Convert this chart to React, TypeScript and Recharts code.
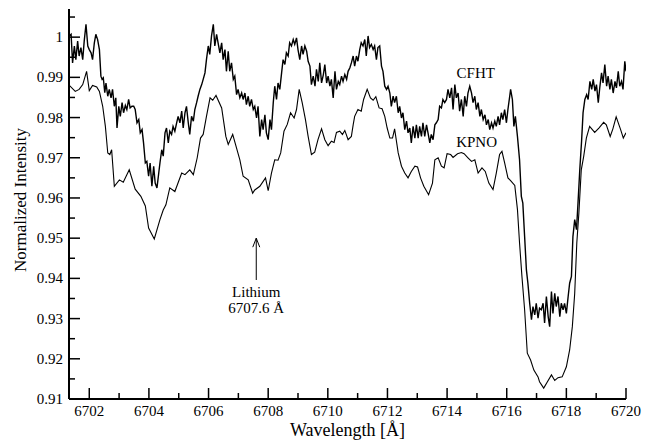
import React from "react";
import {
  LineChart,
  Line,
  XAxis,
  YAxis,
  ReferenceLine,
  ReferenceDot
} from "recharts";

// [wavelength (Å), normalized intensity]
const cfht: [number, number][] = [
  [6701.33, 1.0003], [6701.39, 1.0007], [6701.44, 0.9936], [6701.50, 0.9978], [6701.55, 0.9944], [6701.61, 0.9990],
  [6701.66, 0.9953], [6701.72, 0.9974], [6701.78, 0.9944], [6701.83, 0.9990], [6701.89, 1.0032], [6701.95, 0.9978],
  [6702.00, 0.9969], [6702.06, 0.9961], [6702.11, 0.9944], [6702.17, 0.9986], [6702.22, 1.0007], [6702.28, 0.9994],
  [6702.34, 0.9969], [6702.39, 0.9903], [6702.43, 0.9895], [6702.47, 0.9899], [6702.52, 0.9862], [6702.56, 0.9886],
  [6702.62, 0.9853], [6702.67, 0.9870], [6702.73, 0.9849], [6702.78, 0.9870], [6702.84, 0.9828], [6702.89, 0.9849],
  [6702.93, 0.9774], [6702.99, 0.9828], [6703.04, 0.9803], [6703.10, 0.9837], [6703.15, 0.9812], [6703.21, 0.9830],
  [6703.26, 0.9820], [6703.32, 0.9845], [6703.37, 0.9824], [6703.43, 0.9828], [6703.49, 0.9828], [6703.54, 0.9820],
  [6703.60, 0.9787], [6703.66, 0.9795], [6703.71, 0.9762], [6703.77, 0.9770], [6703.82, 0.9737], [6703.88, 0.9687],
  [6703.93, 0.9691], [6703.99, 0.9654], [6704.04, 0.9687], [6704.10, 0.9629], [6704.16, 0.9679], [6704.21, 0.9637],
  [6704.27, 0.9625], [6704.33, 0.9662],
  [6704.37, 0.9687], [6704.43, 0.9720], [6704.48, 0.9704], [6704.54, 0.9762], [6704.59, 0.9774], [6704.65, 0.9737],
  [6704.70, 0.9766], [6704.76, 0.9758], [6704.81, 0.9778], [6704.87, 0.9766], [6704.93, 0.9787], [6704.98, 0.9803],
  [6705.04, 0.9787], [6705.10, 0.9816], [6705.15, 0.9774], [6705.21, 0.9812], [6705.26, 0.9828], [6705.32, 0.9787],
  [6705.37, 0.9758], [6705.43, 0.9803], [6705.49, 0.9791], [6705.54, 0.9820], [6705.60, 0.9837], [6705.65, 0.9853],
  [6705.71, 0.9870], [6705.77, 0.9882], [6705.82, 0.9895], [6705.88, 0.9911], [6705.93, 0.9944], [6705.99, 0.9978],
  [6706.04, 0.9957], [6706.10, 1.0003], [6706.16, 1.0032], [6706.21, 0.9978], [6706.27, 1.0007], [6706.32, 0.9986],
  [6706.38, 0.9961], [6706.44, 0.9986], [6706.49, 0.9944], [6706.55, 0.9969], [6706.60, 0.9915], [6706.66, 0.9965],
  [6706.71, 0.9915], [6706.77, 0.9936], [6706.83, 0.9895], [6706.88, 0.9903], [6706.94, 0.9857], [6706.99, 0.9870],
  [6707.05, 0.9849], [6707.11, 0.9861], [6707.16, 0.9845], [6707.22, 0.9861], [6707.27, 0.9832], [6707.33, 0.9853],
  [6707.38, 0.9828], [6707.44, 0.9845], [6707.50, 0.9820], [6707.55, 0.9828],
  [6707.61, 0.9799], [6707.66, 0.9828], [6707.72, 0.9753], [6707.78, 0.9795], [6707.83, 0.9770], [6707.89, 0.9807],
  [6707.94, 0.9762], [6708.00, 0.9745], [6708.06, 0.9795], [6708.11, 0.9770], [6708.17, 0.9837], [6708.22, 0.9878],
  [6708.28, 0.9845], [6708.33, 0.9886], [6708.39, 0.9870], [6708.45, 0.9911], [6708.50, 0.9944], [6708.56, 0.9932],
  [6708.61, 0.9961], [6708.67, 0.9953], [6708.72, 0.9986], [6708.78, 0.9978], [6708.84, 0.9994], [6708.89, 0.9982],
  [6708.95, 0.9998], [6709.00, 0.9969], [6709.06, 0.9944], [6709.12, 0.9978], [6709.17, 0.9957], [6709.23, 0.9978],
  [6709.29, 0.9965], [6709.34, 0.9940], [6709.40, 0.9928], [6709.45, 0.9882], [6709.51, 0.9903], [6709.57, 0.9878],
  [6709.62, 0.9920], [6709.68, 0.9890], [6709.73, 0.9936], [6709.79, 0.9886], [6709.85, 0.9907], [6709.90, 0.9932],
  [6709.96, 0.9886], [6710.01, 0.9903], [6710.07, 0.9878], [6710.12, 0.9895], [6710.18, 0.9849], [6710.24, 0.9915],
  [6710.29, 0.9870], [6710.35, 0.9890], [6710.40, 0.9882], [6710.46, 0.9903], [6710.51, 0.9890], [6710.57, 0.9907],
  [6710.63, 0.9895], [6710.68, 0.9915], [6710.74, 0.9924],
  [6710.79, 0.9936], [6710.85, 0.9953], [6710.90, 0.9928], [6710.96, 0.9953], [6711.01, 0.9940], [6711.07, 0.9969],
  [6711.12, 0.9986], [6711.18, 0.9978], [6711.24, 0.9994], [6711.29, 0.9953], [6711.35, 1.0003], [6711.40, 0.9974],
  [6711.46, 0.9982], [6711.52, 0.9969], [6711.57, 0.9978], [6711.63, 0.9944], [6711.68, 0.9974], [6711.74, 0.9978],
  [6711.80, 0.9928], [6711.85, 0.9915], [6711.91, 0.9878], [6711.97, 0.9870], [6712.02, 0.9878], [6712.08, 0.9861],
  [6712.13, 0.9828], [6712.19, 0.9853], [6712.24, 0.9837], [6712.30, 0.9853], [6712.36, 0.9812], [6712.41, 0.9828],
  [6712.47, 0.9799], [6712.52, 0.9812], [6712.58, 0.9770], [6712.64, 0.9791], [6712.69, 0.9762], [6712.75, 0.9774],
  [6712.80, 0.9737], [6712.86, 0.9778], [6712.92, 0.9749], [6712.97, 0.9782], [6713.03, 0.9749], [6713.08, 0.9778],
  [6713.14, 0.9753], [6713.19, 0.9787], [6713.25, 0.9753], [6713.31, 0.9782], [6713.36, 0.9762], [6713.42, 0.9737],
  [6713.47, 0.9758], [6713.53, 0.9745], [6713.59, 0.9782], [6713.64, 0.9787], [6713.70, 0.9795], [6713.75, 0.9828],
  [6713.81, 0.9824], [6713.86, 0.9845], [6713.92, 0.9837],
  [6713.98, 0.9845], [6714.03, 0.9870], [6714.09, 0.9849], [6714.15, 0.9874], [6714.20, 0.9820], [6714.26, 0.9882],
  [6714.31, 0.9849], [6714.37, 0.9861], [6714.42, 0.9816], [6714.48, 0.9845], [6714.54, 0.9803], [6714.59, 0.9853],
  [6714.65, 0.9828], [6714.70, 0.9861], [6714.76, 0.9878], [6714.82, 0.9861], [6714.87, 0.9837], [6714.93, 0.9853],
  [6714.98, 0.9820], [6715.04, 0.9837], [6715.10, 0.9803], [6715.15, 0.9820], [6715.21, 0.9795], [6715.27, 0.9807],
  [6715.32, 0.9782], [6715.38, 0.9795], [6715.43, 0.9770], [6715.49, 0.9787], [6715.54, 0.9774], [6715.60, 0.9791],
  [6715.65, 0.9778], [6715.71, 0.9803], [6715.76, 0.9782], [6715.82, 0.9812], [6715.87, 0.9795], [6715.93, 0.9820],
  [6715.99, 0.9787], [6716.04, 0.9820], [6716.10, 0.9853], [6716.13, 0.9870], [6716.19, 0.9845], [6716.24, 0.9778],
  [6716.29, 0.9803], [6716.36, 0.9753], [6716.43, 0.9695], [6716.49, 0.9604], [6716.54, 0.9587], [6716.60, 0.9504],
  [6716.66, 0.9421], [6716.71, 0.9388], [6716.77, 0.9338], [6716.83, 0.9297], [6716.88, 0.9330], [6716.94, 0.9309],
  [6716.99, 0.9338], [6717.05, 0.9301], [6717.10, 0.9326],
  [6717.16, 0.9322], [6717.22, 0.9338], [6717.27, 0.9289], [6717.33, 0.9355], [6717.39, 0.9305], [6717.44, 0.9280],
  [6717.50, 0.9367], [6717.55, 0.9313], [6717.61, 0.9363], [6717.66, 0.9330], [6717.72, 0.9355], [6717.78, 0.9305],
  [6717.83, 0.9338], [6717.89, 0.9322], [6717.94, 0.9338], [6718.00, 0.9313], [6718.06, 0.9355], [6718.11, 0.9388],
  [6718.17, 0.9405], [6718.22, 0.9504], [6718.28, 0.9546], [6718.34, 0.9521], [6718.39, 0.9587], [6718.45, 0.9670],
  [6718.51, 0.9741], [6718.56, 0.9812], [6718.62, 0.9845], [6718.68, 0.9857], [6718.73, 0.9845], [6718.79, 0.9890],
  [6718.85, 0.9870], [6718.90, 0.9895], [6718.96, 0.9866], [6719.01, 0.9882], [6719.07, 0.9837], [6719.12, 0.9874],
  [6719.18, 0.9911], [6719.23, 0.9886], [6719.29, 0.9932], [6719.35, 0.9878], [6719.40, 0.9903], [6719.46, 0.9870],
  [6719.51, 0.9895], [6719.57, 0.9861], [6719.63, 0.9890], [6719.68, 0.9874], [6719.74, 0.9915], [6719.79, 0.9878],
  [6719.85, 0.9890], [6719.90, 0.9870], [6719.96, 0.9940], [6720.00, 0.9915]
];

const kpno: [number, number][] = [
  [6701.33, 0.9880], [6701.53, 0.9865], [6701.66, 0.9870], [6701.78, 0.9882], [6701.91, 0.9915], [6702.00, 0.9867],
  [6702.11, 0.9880], [6702.25, 0.9876], [6702.34, 0.9865], [6702.45, 0.9828], [6702.54, 0.9778], [6702.62, 0.9712],
  [6702.69, 0.9708], [6702.75, 0.9720], [6702.84, 0.9629], [6703.01, 0.9645], [6703.14, 0.9639], [6703.34, 0.9670],
  [6703.54, 0.9622], [6703.73, 0.9604], [6703.88, 0.9580], [6703.99, 0.9525], [6704.18, 0.9498],
  [6704.37, 0.9546], [6704.48, 0.9570], [6704.57, 0.9583], [6704.70, 0.9625], [6704.87, 0.9616], [6705.10, 0.9662],
  [6705.21, 0.9658], [6705.37, 0.9670], [6705.49, 0.9658], [6705.62, 0.9700], [6705.73, 0.9749], [6705.82, 0.9758],
  [6705.93, 0.9803], [6706.05, 0.9849], [6706.14, 0.9843], [6706.25, 0.9855], [6706.44, 0.9824], [6706.58, 0.9753],
  [6706.66, 0.9733], [6706.81, 0.9758], [6707.05, 0.9695], [6707.16, 0.9654], [6707.33, 0.9645], [6707.48, 0.9612],
  [6707.55, 0.9620], [6707.72, 0.9629], [6707.91, 0.9650], [6708.00, 0.9618], [6708.11, 0.9662], [6708.22, 0.9695],
  [6708.33, 0.9694], [6708.42, 0.9712], [6708.53, 0.9766], [6708.64, 0.9783], [6708.75, 0.9812], [6708.87, 0.9799],
  [6708.95, 0.9820], [6709.04, 0.9870], [6709.14, 0.9837], [6709.25, 0.9795], [6709.34, 0.9753], [6709.45, 0.9708],
  [6709.56, 0.9714], [6709.67, 0.9745], [6709.79, 0.9772], [6709.90, 0.9745], [6710.01, 0.9730], [6710.12, 0.9741],
  [6710.21, 0.9738], [6710.29, 0.9763], [6710.40, 0.9766], [6710.49, 0.9758], [6710.57, 0.9768], [6710.68, 0.9745],
  [6710.79, 0.9753], [6710.85, 0.9782], [6710.90, 0.9803], [6711.01, 0.9820], [6711.12, 0.9816], [6711.20, 0.9845],
  [6711.32, 0.9870], [6711.43, 0.9849], [6711.52, 0.9843], [6711.61, 0.9852], [6711.72, 0.9824], [6711.82, 0.9822],
  [6711.91, 0.9803], [6711.99, 0.9774], [6712.08, 0.9749], [6712.17, 0.9749], [6712.24, 0.9772], [6712.36, 0.9712],
  [6712.47, 0.9679], [6712.58, 0.9662], [6712.69, 0.9650], [6712.80, 0.9666], [6712.92, 0.9679], [6713.01, 0.9677],
  [6713.11, 0.9650], [6713.22, 0.9629], [6713.38, 0.9608], [6713.51, 0.9637], [6713.59, 0.9695], [6713.70, 0.9700],
  [6713.81, 0.9679], [6713.90, 0.9675], [6714.00, 0.9710], [6714.12, 0.9708], [6714.20, 0.9701], [6714.35, 0.9710],
  [6714.48, 0.9713], [6714.57, 0.9710], [6714.70, 0.9700], [6714.82, 0.9691], [6714.93, 0.9695], [6715.04, 0.9662],
  [6715.17, 0.9675], [6715.28, 0.9666], [6715.40, 0.9637], [6715.54, 0.9621], [6715.65, 0.9662], [6715.76, 0.9708],
  [6715.84, 0.9716], [6715.93, 0.9687], [6716.04, 0.9650], [6716.13, 0.9643], [6716.27, 0.9631], [6716.36, 0.9571],
  [6716.43, 0.9488], [6716.51, 0.9405], [6716.60, 0.9322], [6716.69, 0.9214], [6716.80, 0.9197], [6716.91, 0.9172],
  [6717.05, 0.9155], [6717.10, 0.9143], [6717.24, 0.9127], [6717.35, 0.9141], [6717.50, 0.9160], [6717.61, 0.9146],
  [6717.72, 0.9153], [6717.86, 0.9155], [6718.00, 0.9180], [6718.11, 0.9222], [6718.20, 0.9280], [6718.28, 0.9363],
  [6718.35, 0.9488], [6718.42, 0.9563], [6718.50, 0.9670], [6718.58, 0.9703], [6718.67, 0.9749], [6718.78, 0.9778],
  [6718.95, 0.9763], [6719.09, 0.9774], [6719.25, 0.9788], [6719.34, 0.9782], [6719.47, 0.9753], [6719.56, 0.9772],
  [6719.67, 0.9802], [6719.82, 0.9770], [6719.91, 0.9749], [6720.00, 0.9762]
];

const xTicks = [6702, 6703, 6704, 6705, 6706, 6707, 6708, 6709, 6710, 6711, 6712, 6713, 6714, 6715, 6716, 6717, 6718, 6719, 6720];
const yTicks = [0.91, 0.915, 0.92, 0.925, 0.93, 0.935, 0.94, 0.945, 0.95, 0.955, 0.96, 0.965, 0.97, 0.975, 0.98, 0.985, 0.99, 0.995, 1, 1.005];

const xDomain = [6701.32, 6720];
const yDomain = [0.91, 1.007];

const lithiumLine = 6707.6;
const lithiumArrow = [0.9396, 0.95];

const FONT = "'Liberation Serif', 'DejaVu Serif', serif";

const cfhtData = cfht.map(([x, y]) => ({ x, y }));
const kpnoData = kpno.map(([x, y]) => ({ x, y }));

const isMajorX = (v: number) => Math.round(v) % 2 === 0;
const isMajorY = (v: number) => Math.round(v * 1000) % 10 === 0;

const BottomTick = (props: any) => {
  const { x, y, payload } = props;
  const major = isMajorX(payload.value);
  return (
    <g>
      <line x1={x} y1={y} x2={x} y2={y - (major ? 11 : 6)} stroke="#000" strokeWidth={1.5} />
      {major && (
        <text x={x} y={y + 17} textAnchor="middle" fontSize={15} fontFamily={FONT} fill="#000">
          {payload.value}
        </text>
      )}
    </g>
  );
};

const TopTick = (props: any) => {
  const { x, y, payload } = props;
  const major = isMajorX(payload.value);
  return <line x1={x} y1={y} x2={x} y2={y + (major ? 11 : 6)} stroke="#000" strokeWidth={1.5} />;
};

const LeftTick = (props: any) => {
  const { x, y, payload } = props;
  const major = isMajorY(payload.value);
  return (
    <g>
      <line x1={x} y1={y} x2={x + (major ? 11 : 6)} y2={y} stroke="#000" strokeWidth={1.5} />
      {major && (
        <text x={x - 6} y={y + 5} textAnchor="end" fontSize={15} fontFamily={FONT} fill="#000">
          {payload.value}
        </text>
      )}
    </g>
  );
};

const RightTick = (props: any) => {
  const { x, y, payload } = props;
  const major = isMajorY(payload.value);
  return <line x1={x} y1={y} x2={x - (major ? 11 : 6)} y2={y} stroke="#000" strokeWidth={1.5} />;
};

const Arrow = (props: any) => {
  const { x1, y1, x2, y2 } = props;
  const tipY = Math.min(y1, y2);
  const baseY = Math.max(y1, y2);
  return (
    <g>
      <line x1={x1} y1={baseY} x2={x2} y2={tipY} stroke="#000" strokeWidth={1} />
      <polyline
        points={`${x1 - 3.5},${tipY + 9} ${x1},${tipY} ${x1 + 3.5},${tipY + 9}`}
        fill="none"
        stroke="#000"
        strokeWidth={1}
      />
    </g>
  );
};

const textLabel = (lines: string[]) => (props: any) => {
  const { cx, cy } = props;
  return (
    <text x={cx} y={cy} textAnchor="middle" fontSize={15} fontFamily={FONT} fill="#000">
      {lines.map((l, i) => (
        <tspan key={i} x={cx} dy={i === 0 ? 0 : 16}>
          {l}
        </tspan>
      ))}
    </text>
  );
};

const App = () => {
  return (
    <div style={{ position: "absolute", left: 0, top: 0, background: "#fff" }}>
      <LineChart
        width={652}
        height={442}
        margin={{ top: 9, right: 26, bottom: 0, left: 0 }}
      >
        <XAxis
          xAxisId="bottom"
          dataKey="x"
          type="number"
          domain={xDomain}
          ticks={xTicks}
          interval={0}
          height={43}
          tickSize={0}
          tickMargin={0}
          tickLine={false}
          tick={<BottomTick />}
          axisLine={{ stroke: "#000", strokeWidth: 2 }}
          allowDataOverflow
          label={{
            content: (p: any) => {
              const vb = p.viewBox;
              return (
                <text x={vb.x + vb.width / 2} y={vb.y + 37} textAnchor="middle" fontSize={18} fontFamily={FONT} fill="#000">
                  Wavelength [Å]
                </text>
              );
            }
          }}
        />
        <XAxis
          xAxisId="top"
          orientation="top"
          dataKey="x"
          type="number"
          domain={xDomain}
          ticks={xTicks}
          interval={0}
          height={0}
          tickSize={0}
          tickMargin={0}
          tickLine={false}
          tick={<TopTick />}
          axisLine={{ stroke: "#000", strokeWidth: 2 }}
          allowDataOverflow
        />
        <YAxis
          yAxisId="left"
          type="number"
          domain={yDomain}
          ticks={yTicks}
          interval={0}
          width={69}
          tickSize={0}
          tickMargin={0}
          tickLine={false}
          tick={<LeftTick />}
          axisLine={{ stroke: "#000", strokeWidth: 2 }}
          allowDataOverflow
          label={{
            content: (p: any) => {
              const vb = p.viewBox;
              const cx = vb.x + 22.5;
              const cy = vb.y + vb.height / 2 - 4;
              return (
                <text x={cx} y={cy} transform={`rotate(-90, ${cx}, ${cy})`} textAnchor="middle" dominantBaseline="middle" fontSize={17} fontFamily={FONT} fill="#000">
                  Normalized Intensity
                </text>
              );
            }
          }}
        />
        <YAxis
          yAxisId="right"
          orientation="right"
          type="number"
          domain={yDomain}
          ticks={yTicks}
          interval={0}
          width={0}
          tickSize={0}
          tickMargin={0}
          tickLine={false}
          tick={<RightTick />}
          axisLine={{ stroke: "#000", strokeWidth: 2 }}
          allowDataOverflow
        />
        <Line
          xAxisId="bottom"
          yAxisId="left"
          data={kpnoData}
          dataKey="y"
          type="linear"
          stroke="#000"
          strokeWidth={1.1}
          dot={false}
          isAnimationActive={false}
        />
        <Line
          xAxisId="bottom"
          yAxisId="left"
          data={cfhtData}
          dataKey="y"
          type="linear"
          stroke="#000"
          strokeWidth={1.4}
          dot={false}
          isAnimationActive={false}
        />
        <ReferenceLine
          xAxisId="bottom"
          yAxisId="left"
          segment={[
            { x: lithiumLine, y: lithiumArrow[0] },
            { x: lithiumLine, y: lithiumArrow[1] }
          ]}
          shape={Arrow}
        />
        <ReferenceDot xAxisId="bottom" yAxisId="left" x={lithiumLine} y={0.9354} r={0} shape={textLabel(["Lithium", "6707.6 Å"])} />
        <ReferenceDot xAxisId="bottom" yAxisId="left" x={6714.96} y={0.9899} r={0} shape={textLabel(["CFHT"])} />
        <ReferenceDot xAxisId="bottom" yAxisId="left" x={6714.99} y={0.9727} r={0} shape={textLabel(["KPNO"])} />
      </LineChart>
    </div>
  );
};

export default App;
